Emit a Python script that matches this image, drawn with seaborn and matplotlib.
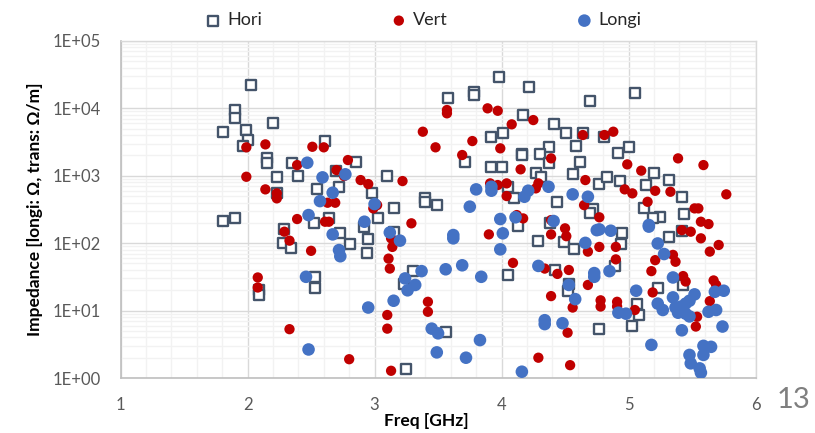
import numpy as np
import pandas as pd
import matplotlib
matplotlib.use("Agg")
import matplotlib.pyplot as plt
import seaborn as sns
from matplotlib.ticker import MultipleLocator, LogLocator, FuncFormatter, NullFormatter

# ---------------- data ----------------
hori_freq = [2.03, 1.90, 1.90, 1.81, 1.99, 2.00, 1.96, 2.20, 2.15, 2.15, 2.23, 2.61, 2.35, 2.40,
             2.85, 2.70, 3.10, 2.55, 2.72, 2.23, 2.98, 3.15, 3.40, 3.40, 3.49, 2.64, 2.52, 2.29,
             2.28, 2.34, 3.03, 2.92, 2.73, 2.95, 2.81, 2.94, 3.15, 2.53, 2.53, 3.30, 3.23, 3.25,
             1.81, 1.90, 2.09, 2.09, 3.98, 4.22, 3.78, 3.78, 3.58, 4.70, 4.17, 4.41, 4.51, 4.64,
             4.01, 3.92, 4.59, 4.37, 4.16, 4.16, 4.30, 4.37, 3.71, 4.62, 3.92, 4.00, 4.27, 4.31,
             4.56, 4.05, 4.77, 4.10, 4.44, 4.72, 4.13, 4.38, 4.70, 4.29, 4.49, 4.57, 4.05, 4.42,
             4.53, 4.52, 3.56, 4.77, 5.05, 4.81, 4.92, 5.00, 4.83, 4.93, 5.20, 5.14, 5.32, 5.42,
             5.12, 5.25, 5.19, 5.44, 5.32, 5.42, 4.95, 4.94, 4.89, 5.23, 5.43, 5.07, 5.08, 5.03]
hori_imp = [22200, 9400, 7200, 4500, 4760, 3390, 2760, 6000, 1850, 1530, 966, 3270, 1530, 1000,
            1580, 1175, 1000, 628, 687, 560, 548, 328, 462, 411, 367, 233, 201, 160,
            101, 85, 233, 175, 143, 114, 96, 71, 144, 31, 22, 39, 25, 1.34,
            213, 238, 20, 17, 29400, 20500, 17600, 15700, 14400, 12800, 7960, 5790, 4350, 4260,
            4350, 3715, 2760, 2640, 2100, 2000, 2100, 1530, 1610, 1610, 1330, 1350, 1110, 966,
            1060, 687, 753, 462, 411, 320, 180, 201, 277, 109, 105, 81, 33.6, 40,
            25, 19.7, 4.8, 5.3, 16700, 3790, 2190, 2640, 966, 843, 1085, 728, 863, 488,
            328, 247, 233, 270, 124, 153, 143, 96, 46, 22, 24, 12.4, 8.6, 5.9]

vert_freq = [1.99, 2.14, 1.99, 2.14, 2.23, 2.23, 2.51, 2.60, 2.39, 2.79, 2.70, 2.76, 2.89, 2.95,
             3.22, 3.38, 3.48, 2.63, 2.69, 3.02, 2.39, 2.61, 2.64, 2.29, 2.33, 2.50, 2.99, 3.29,
             3.13, 3.14, 3.11, 3.12, 3.10, 3.10, 2.33, 2.80, 3.13, 3.42, 3.42, 2.08, 2.08, 3.57,
             3.57, 3.89, 3.97, 4.08, 4.25, 3.77, 3.69, 3.99, 4.64, 4.39, 4.15, 4.04, 4.04, 3.91,
             3.97, 4.29, 4.27, 4.66, 4.65, 4.12, 4.17, 3.90, 4.39, 4.39, 4.50, 4.51, 4.68, 4.77,
             4.09, 4.34, 4.44, 4.53, 4.68, 4.39, 4.56, 4.78, 4.78, 4.52, 4.29, 4.54, 4.81, 4.88,
             4.99, 5.10, 5.39, 5.59, 4.97, 5.03, 5.21, 5.33, 5.77, 5.15, 5.52, 5.55, 4.77, 5.57,
             5.63, 5.42, 5.49, 5.57, 4.90, 4.90, 5.21, 5.35, 5.37, 5.18, 5.64, 5.71, 5.43, 5.45,
             5.19, 5.67, 5.69, 4.91, 4.91, 5.05, 5.64, 5.54, 5.53]
vert_imp = [2640, 2920, 966, 628, 548, 462, 2690, 2640, 1440, 1710, 1215, 990, 863, 753,
            834, 4500, 2640, 398, 398, 367, 228, 208, 208, 148, 109, 77, 328, 197,
            118, 88, 59, 42, 8.6, 5.4, 5.3, 1.9, 1.28, 13.5, 9.6, 31, 22, 9440,
            8430, 10000, 9200, 5790, 6700, 3270, 2030, 2550, 4020, 1810, 1245, 771, 500, 771,
            728, 771, 650, 863, 367, 261, 233, 135, 220, 135, 166, 127, 75, 88,
            51, 42, 35, 40, 24, 16.4, 11.1, 14.2, 11.5, 4.7, 2.0, 1.55, 4020, 4500,
            1475, 1190, 1810, 1440, 628, 548, 598, 579, 530, 411, 328, 328, 242, 208,
            192, 156, 148, 118, 88, 57.5, 56, 67, 53, 38.5, 75, 94, 32.5, 27,
            18.6, 28, 24, 13.5, 11.5, 10.2, 13.8, 8.1, 5.8]

longi_freq = [2.47, 2.59, 2.77, 2.67, 2.57, 3.00, 2.48, 2.92, 2.67, 3.12, 3.20, 2.72, 2.73, 2.46,
              3.24, 3.26, 3.32, 3.37, 3.15, 2.95, 3.45, 3.50, 3.49, 2.48, 3.80, 3.92, 3.92, 4.21,
              4.18, 4.37, 4.56, 4.68, 3.75, 3.99, 4.11, 4.41, 4.01, 3.62, 3.62, 3.99, 4.66, 4.75,
              3.56, 3.69, 3.84, 4.29, 4.53, 4.58, 4.73, 4.73, 4.34, 4.34, 4.48, 3.83, 3.72, 4.16,
              4.77, 4.86, 5.16, 5.16, 5.23, 5.28, 5.35, 4.85, 5.06, 5.35, 5.52, 5.48, 5.45, 5.41,
              5.37, 5.39, 5.45, 5.48, 5.23, 5.27, 4.92, 4.98, 5.63, 5.69, 5.68, 5.75, 5.74, 5.42,
              5.18, 5.59, 5.65, 5.48, 5.49, 5.56, 5.57, 5.59]
longi_imp = [1560, 946, 1050, 560, 421, 380, 261, 208, 135, 144, 109, 79, 64, 31.7,
             30, 20, 24, 38.5, 14, 11.1, 5.4, 4.6, 2.4, 2.65, 628, 687, 600, 600,
             488, 687, 530, 488, 348, 228, 242, 213, 140, 132, 118, 81, 101, 156,
             41, 47, 31.7, 46, 24, 14.8, 36, 31.7, 7.2, 6.3, 6.5, 3.65, 2.0, 1.24,
             160, 153, 186, 176, 99, 69, 31, 38.5, 19.7, 15.7, 17.4, 14, 12.7, 11.4,
             11.1, 9.3, 9.0, 8.2, 12.7, 10.2, 9.3, 9.0, 9.6, 10.2, 19, 19.7, 5.8, 5.1,
             3.1, 3.0, 2.9, 2.2, 1.65, 1.39, 1.2, 2.2]

series_names = ["Hori", "Vert", "Longi"]
x_ticks = [1, 2, 3, 4, 5, 6]
y_ticks = [1e0, 1e1, 1e2, 1e3, 1e4, 1e5]

df = pd.concat([
    pd.DataFrame({"freq": hori_freq, "imp": hori_imp, "series": "Hori"}),
    pd.DataFrame({"freq": vert_freq, "imp": vert_imp, "series": "Vert"}),
    pd.DataFrame({"freq": longi_freq, "imp": longi_imp, "series": "Longi"}),
], ignore_index=True)

# ---------------- style ----------------
sns.set_theme(style="white")
plt.rcParams["font.family"] = ["Lato", "DejaVu Sans"]

fig = plt.figure(figsize=(8.15, 4.33), dpi=100)
ax = fig.add_axes([0.148, 0.127, 0.779, 0.7785])

styles = {
    "Hori": dict(marker="s", s=58, facecolor="white", edgecolor="#44546A", linewidth=1.7),
    "Vert": dict(marker="o", s=55, color="#C00000", edgecolor="none", linewidth=0),
    "Longi": dict(marker="o", s=82, color="#4472C4", edgecolor="none", linewidth=0),
}
for name in series_names:
    sub = df[df["series"] == name]
    sns.scatterplot(data=sub, x="freq", y="imp", ax=ax, label=name, zorder=3, **styles[name])

ax.set_yscale("log")
ax.set_xlim(1, 6)
ax.set_ylim(1, 1e5)
ax.set_xticks(x_ticks)
ax.set_yticks(y_ticks)
ax.xaxis.set_minor_locator(MultipleLocator(0.2))
ax.yaxis.set_minor_locator(LogLocator(base=10, subs=np.arange(2, 10)))
ax.yaxis.set_minor_formatter(NullFormatter())
ax.yaxis.set_major_formatter(FuncFormatter(lambda v, p: f"1E+{int(round(np.log10(v))):02d}"))
ax.xaxis.set_major_formatter(FuncFormatter(lambda v, p: f"{int(round(v))}"))

ax.grid(which="major", color="#D9D9D9", linewidth=1.0, zorder=0)
ax.grid(which="minor", color="#F2F2F2", linewidth=1.0, zorder=0)
ax.set_axisbelow(True)
for side in ["top", "right"]:
    ax.spines[side].set_color("#D9D9D9")
    ax.spines[side].set_linewidth(1.0)
for side in ["left", "bottom"]:
    ax.spines[side].set_color("#BFBFBF")
    ax.spines[side].set_linewidth(1.2)

ax.tick_params(axis="both", which="both", length=0, labelsize=12, labelcolor="#595959")
ax.tick_params(axis="y", pad=14.5)
ax.tick_params(axis="x", pad=14)

ax.set_xlabel("Freq [GHz]", fontsize=12.5, fontweight="bold", color="black")
ax.set_ylabel("Impedance [longi: Ω, trans: Ω/m]", fontsize=12.5, fontweight="bold", color="black")
ax.xaxis.set_label_coords(0.481, -0.105)
ax.yaxis.set_label_coords(-0.122, 0.5)

ax.get_legend().remove()
handles, labels = ax.get_legend_handles_labels()
fig.legend(handles, labels, loc="center", bbox_to_anchor=(0.519, 0.953), ncol=3,
           frameon=False, fontsize=13, columnspacing=7.05, handletextpad=0.3,
           handlelength=1.0, markerscale=1.0)

fig.text(0.974, 0.076, "13", fontsize=21, color="#7F7F7F", ha="center", va="center")

fig.savefig("out.png", dpi=100)
